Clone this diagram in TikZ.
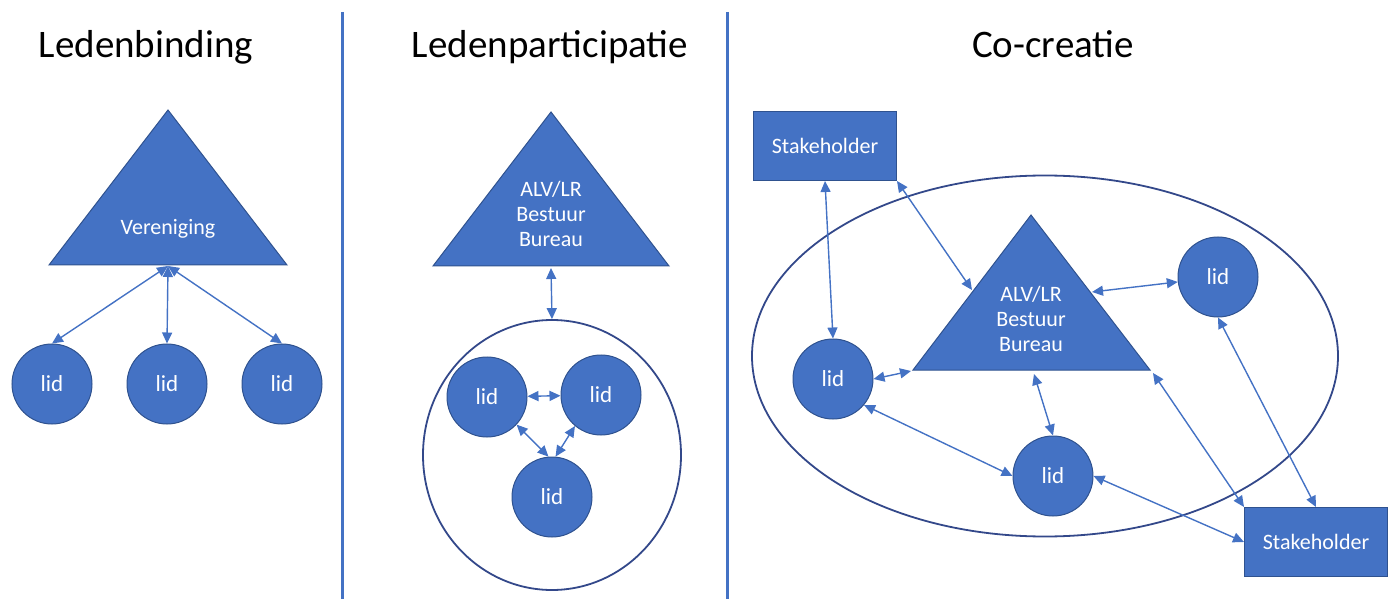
\documentclass[tikz,border=0pt]{standalone}
\usepackage{fontspec}
\setmainfont{Carlito}
\usepackage{tikz}
\usetikzlibrary{shapes.geometric,arrows.meta}

\definecolor{officeblue}{HTML}{4472C4}
\definecolor{officeedge}{HTML}{2F528F}
\definecolor{ringblue}{HTML}{33488A}

\begin{document}
\begin{tikzpicture}[x=0.5pt, y=-0.5pt,
    >={Triangle[length=5.5pt,width=5pt]},
    lid/.style={circle, draw=officeedge, fill=officeblue, line width=0.5pt,
      minimum size=40pt, inner sep=0pt, text=white, font=\fontsize{11.5}{13}\selectfont},
    stakebox/.style={rectangle, draw=officeedge, fill=officeblue, line width=0.5pt,
      minimum width=71.5pt, minimum height=34.5pt, text=white, font=\fontsize{11}{13}\selectfont},
    tri/.style={fill=officeblue, draw=officeedge, line width=0.5pt},
    trilabel/.style={text=white, align=center, font=\fontsize{11}{12.5}\selectfont},
    ring/.style={ellipse, draw=ringblue, line width=0.9pt, inner sep=0pt},
    link/.style={<->, officeblue, line width=0.7pt},
    title/.style={anchor=base, font=\fontsize{19.5}{24}\selectfont},
    divider/.style={officeblue, line width=1.5pt}]
  \useasboundingbox (0,0) rectangle (1394,599);

  % Titles and dividers
  \node[title] (t1) at (146,58) {Ledenbinding};
  \node[title] (t2) at (550,58) {Ledenparticipatie};
  \node[title] (t3) at (1053,58) {Co-creatie};
  \draw[divider] (342,12) -- (342,599);
  \draw[divider] (727,12) -- (727,599);

  % Ledenbinding
  \fill[tri] (49,265) -- (168,110) -- (287,265) -- cycle;
  \node[trilabel] (ver) at (168,229) {Vereniging};
  \coordinate (verb) at (168,266);
  \node[lid] (a1) at (52,384) {lid};
  \node[lid] (a2) at (167,384) {lid};
  \node[lid] (a3) at (282,384) {lid};
  \draw[link] (verb) -- (a1.north);
  \draw[link] (verb) -- (a2.north);
  \draw[link] (verb) -- (a3.north);

  % Ledenparticipatie
  \fill[tri] (433,266) -- (551,112) -- (669,266) -- cycle;
  \node[trilabel] (bestuur2) at (551,214) {ALV/LR\\Bestuur\\Bureau};
  \coordinate (b2base) at (551,268);
  \node[ring, minimum width=129pt, minimum height=135pt] (kring) at (552,455) {};
  \node[lid] (b1) at (487,397) {lid};
  \node[lid] (b2) at (601,395) {lid};
  \node[lid] (b3) at (552,497) {lid};
  \draw[link] (b2base) -- (kring.north);
  \draw[link] (b1) -- (b2);
  \draw[link] (b1.-43) -- (b3.95);
  \draw[link] (b2.-130) -- (b3.85);

  % Co-creatie
  \node[ring, minimum width=293pt, minimum height=180.5pt] (veld) at (1045,356) {};
  \fill[tri] (913,370) -- (1031,215) -- (1150,370) -- cycle;
  \node[trilabel] (bestuur3) at (1031,319) {ALV/LR\\Bestuur\\Bureau};
  \coordinate (c3left) at (972,290);
  \coordinate (c3right) at (1092,292);
  \coordinate (c3bl) at (911,371);
  \coordinate (c3bm) at (1034,374);
  \coordinate (c3br) at (1153,373);
  \node[stakebox] (st1) at (825,146) {Stakeholder};
  \node[stakebox] (st2) at (1316,542) {Stakeholder};
  \node[lid] (c1) at (833,379) {lid};
  \node[lid] (c2) at (1218,277) {lid};
  \node[lid] (c3) at (1053,476) {lid};
  \draw[link] (st1.south) -- (c1.north);
  \draw[link] (st1.south east) -- (c3left);
  \draw[link] (c3bl) -- (c1.east);
  \draw[link] (c3right) -- (c2.187);
  \draw[link] (c3bm) -- (c3.north);
  \draw[link] (c1.-40) -- (c3.west);
  \draw[link] (c3br) -- (st2.north west);
  \draw[link] (c2.south) -- (st2.north);
  \draw[link] (c3.east) -- (st2.west);
\end{tikzpicture}
\end{document}
